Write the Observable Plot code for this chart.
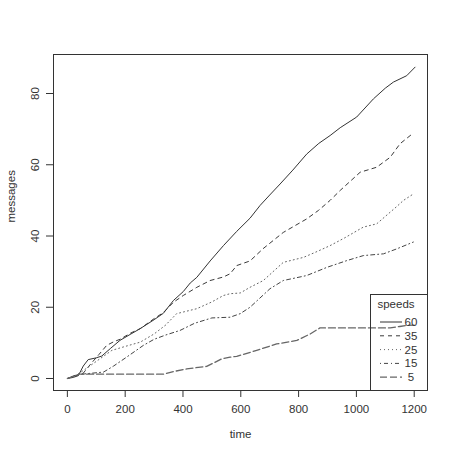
<!DOCTYPE html>
<html>
<head>
<meta charset="utf-8">
<script src="https://cdn.jsdelivr.net/npm/d3@7"></script>
<script src="https://cdn.jsdelivr.net/npm/@observablehq/plot@0.6"></script>
<style>
  html, body { margin: 0; padding: 0; background: #fff; overflow: hidden; }
</style>
</head>
<body>
<div id="chart"></div>
<script>
// ---- data ----
const speeds = ["60", "35", "25", "15", "5"];
const xTicks = [0, 200, 400, 600, 800, 1000, 1200];
const yTicks = [0, 20, 40, 60, 80];

const t60 = [0,20,38,55,72,100,119,150,182,220,252,300,332,367,401,425,448,494,540,586,632,667,700,736,780,828,870,909,944,1001,1059,1100,1128,1174,1203];
const v60 = [0,0.3,0.8,3.5,5.3,5.8,6.3,8.5,10.7,12.5,14,16.5,18.3,21.9,24.4,26.8,28.4,33,37.3,41.3,45,48.6,51.5,54.6,58.5,63,66,68.2,70.4,73.4,78.5,81.5,83.2,85,87.4];

const t35 = [0,30,55,80,110,136,160,182,220,252,300,332,367,401,448,494,540,563,586,632,678,747,828,869,909,944,1013,1070,1117,1151,1197];
const v35 = [0,0.8,1.5,4,6.8,9.3,10.3,11,12.8,14,16.8,18.5,21.4,23.3,25.6,27.5,28.5,29.4,31.7,33,36.5,41,44.8,47.2,50,52.8,57.9,59.3,62.1,65.9,68.9];

const t25 = [0,32,60,100,154,200,252,300,340,378,448,500,540,563,598,632,678,747,817,860,909,960,1024,1070,1100,1140,1163,1197];
const v25 = [0,1,2.5,4.8,7.9,9,10.2,12.5,15,18.2,19.6,21.5,23.3,23.8,24,25.6,27.5,32.6,34,35.5,37.3,39.5,42.5,43.4,45.5,48.3,50,51.8];

const t15 = [0,30,60,125,160,205,263,300,340,390,440,500,563,598,632,701,747,828,898,967,1024,1094,1140,1197];
const v15 = [0,1,1.3,1.8,3.5,6,9.3,11,12.2,13.5,15.5,17,17.2,18.2,20,25.2,27.5,28.9,31.2,33.1,34.5,35,36.4,38.3];

const t5 = [0,20,40,100,200,332,370,413,482,534,563,586,655,724,794,840,874,950,1050,1117,1150,1174,1200];
const v5 = [0,0.6,1.2,1.2,1.2,1.2,2,2.7,3.4,5.5,6,6.2,7.9,9.7,10.7,12.5,14.2,14.2,14.2,14.2,14.6,14.9,15];

const seriesT = {"60": t60, "35": t35, "25": t25, "15": t15, "5": t5};
const seriesV = {"60": v60, "35": v35, "25": v25, "15": v15, "5": v5};

// R line types: solid, dashed, dotted, dotdash, longdash
const dashes = {"60": null, "35": "4,4", "25": "1,3", "15": "1,3,4,3", "5": "7,3"};
const strokes = {"60": "#333", "35": "#3a3a3a", "25": "#666", "15": "#444", "5": "#666"};
const widths = {"60": 1, "35": 1, "25": 1, "15": 1, "5": 1.3};

const rows = s => seriesT[s].map((t, i) => ({time: t, messages: seriesV[s][i]}));

const W = 457, H = 457;
const M = {left: 53, right: 30, top: 54, bottom: 67};
const font = "'Liberation Sans', Arial, Helvetica, sans-serif";
const textCol = "#333";

const plot = Plot.plot({
  width: W,
  height: H,
  marginLeft: M.left,
  marginRight: M.right,
  marginTop: M.top,
  marginBottom: M.bottom,
  x: {domain: [-48, 1246]},
  y: {domain: [-3.37, 90.95]},
  style: {fontFamily: font, fontSize: "11.5px", color: textCol, background: "#fff"},
  marks: [
    ...speeds.map(s => Plot.line(rows(s), {
      x: "time", y: "messages",
      stroke: strokes[s], strokeWidth: widths[s],
      strokeDasharray: dashes[s] || undefined
    })),
    Plot.frame({stroke: "#333"}),
    Plot.axisX({ticks: xTicks, tickSize: 7, tickPadding: 7, label: null, stroke: "#333",
      tickFormat: d => String(d), fill: textCol}),
    Plot.axisY({ticks: yTicks, tickSize: 7, tickFormat: () => "", label: null, stroke: "#333"}),
    Plot.text(yTicks, {y: d => d, text: d => String(d), frameAnchor: "left", dx: -18,
      rotate: -90, textAnchor: "middle", lineAnchor: "middle", fill: textCol}),
    Plot.text(["time"], {text: d => d, frameAnchor: "bottom", dy: 47, fill: textCol}),
    Plot.text(["messages"], {text: d => d, frameAnchor: "left", dx: -42, rotate: -90, fill: textCol})
  ]
});

// ---- legend (bottom-right inside the plot region, like R's legend) ----
const svg = d3.select(plot);
const right = W - M.right, bottom = H - M.bottom;
const lw = 57, lh = 96;
const lx = right - lw, ly = bottom - lh;
const g = svg.append("g").attr("font-family", font).attr("font-size", "11.5px").attr("fill", textCol);
g.append("rect").attr("x", lx + 0.5).attr("y", ly + 0.5).attr("width", lw).attr("height", lh)
  .attr("fill", "none").attr("stroke", "#333");
g.append("text").attr("x", lx + 26).attr("y", ly + 10).attr("text-anchor", "middle")
  .attr("dy", "0.35em").text("speeds");
speeds.forEach((s, i) => {
  const yy = ly + 28 + i * 13.8;
  g.append("line").attr("x1", lx + 10).attr("x2", lx + 32).attr("y1", yy).attr("y2", yy)
    .attr("stroke", strokes[s]).attr("stroke-width", widths[s])
    .attr("stroke-dasharray", dashes[s]);
  g.append("text").attr("x", lx + 41).attr("y", yy).attr("dy", "0.35em").text(s);
});

document.getElementById("chart").appendChild(plot);
</script>
</body>
</html>
